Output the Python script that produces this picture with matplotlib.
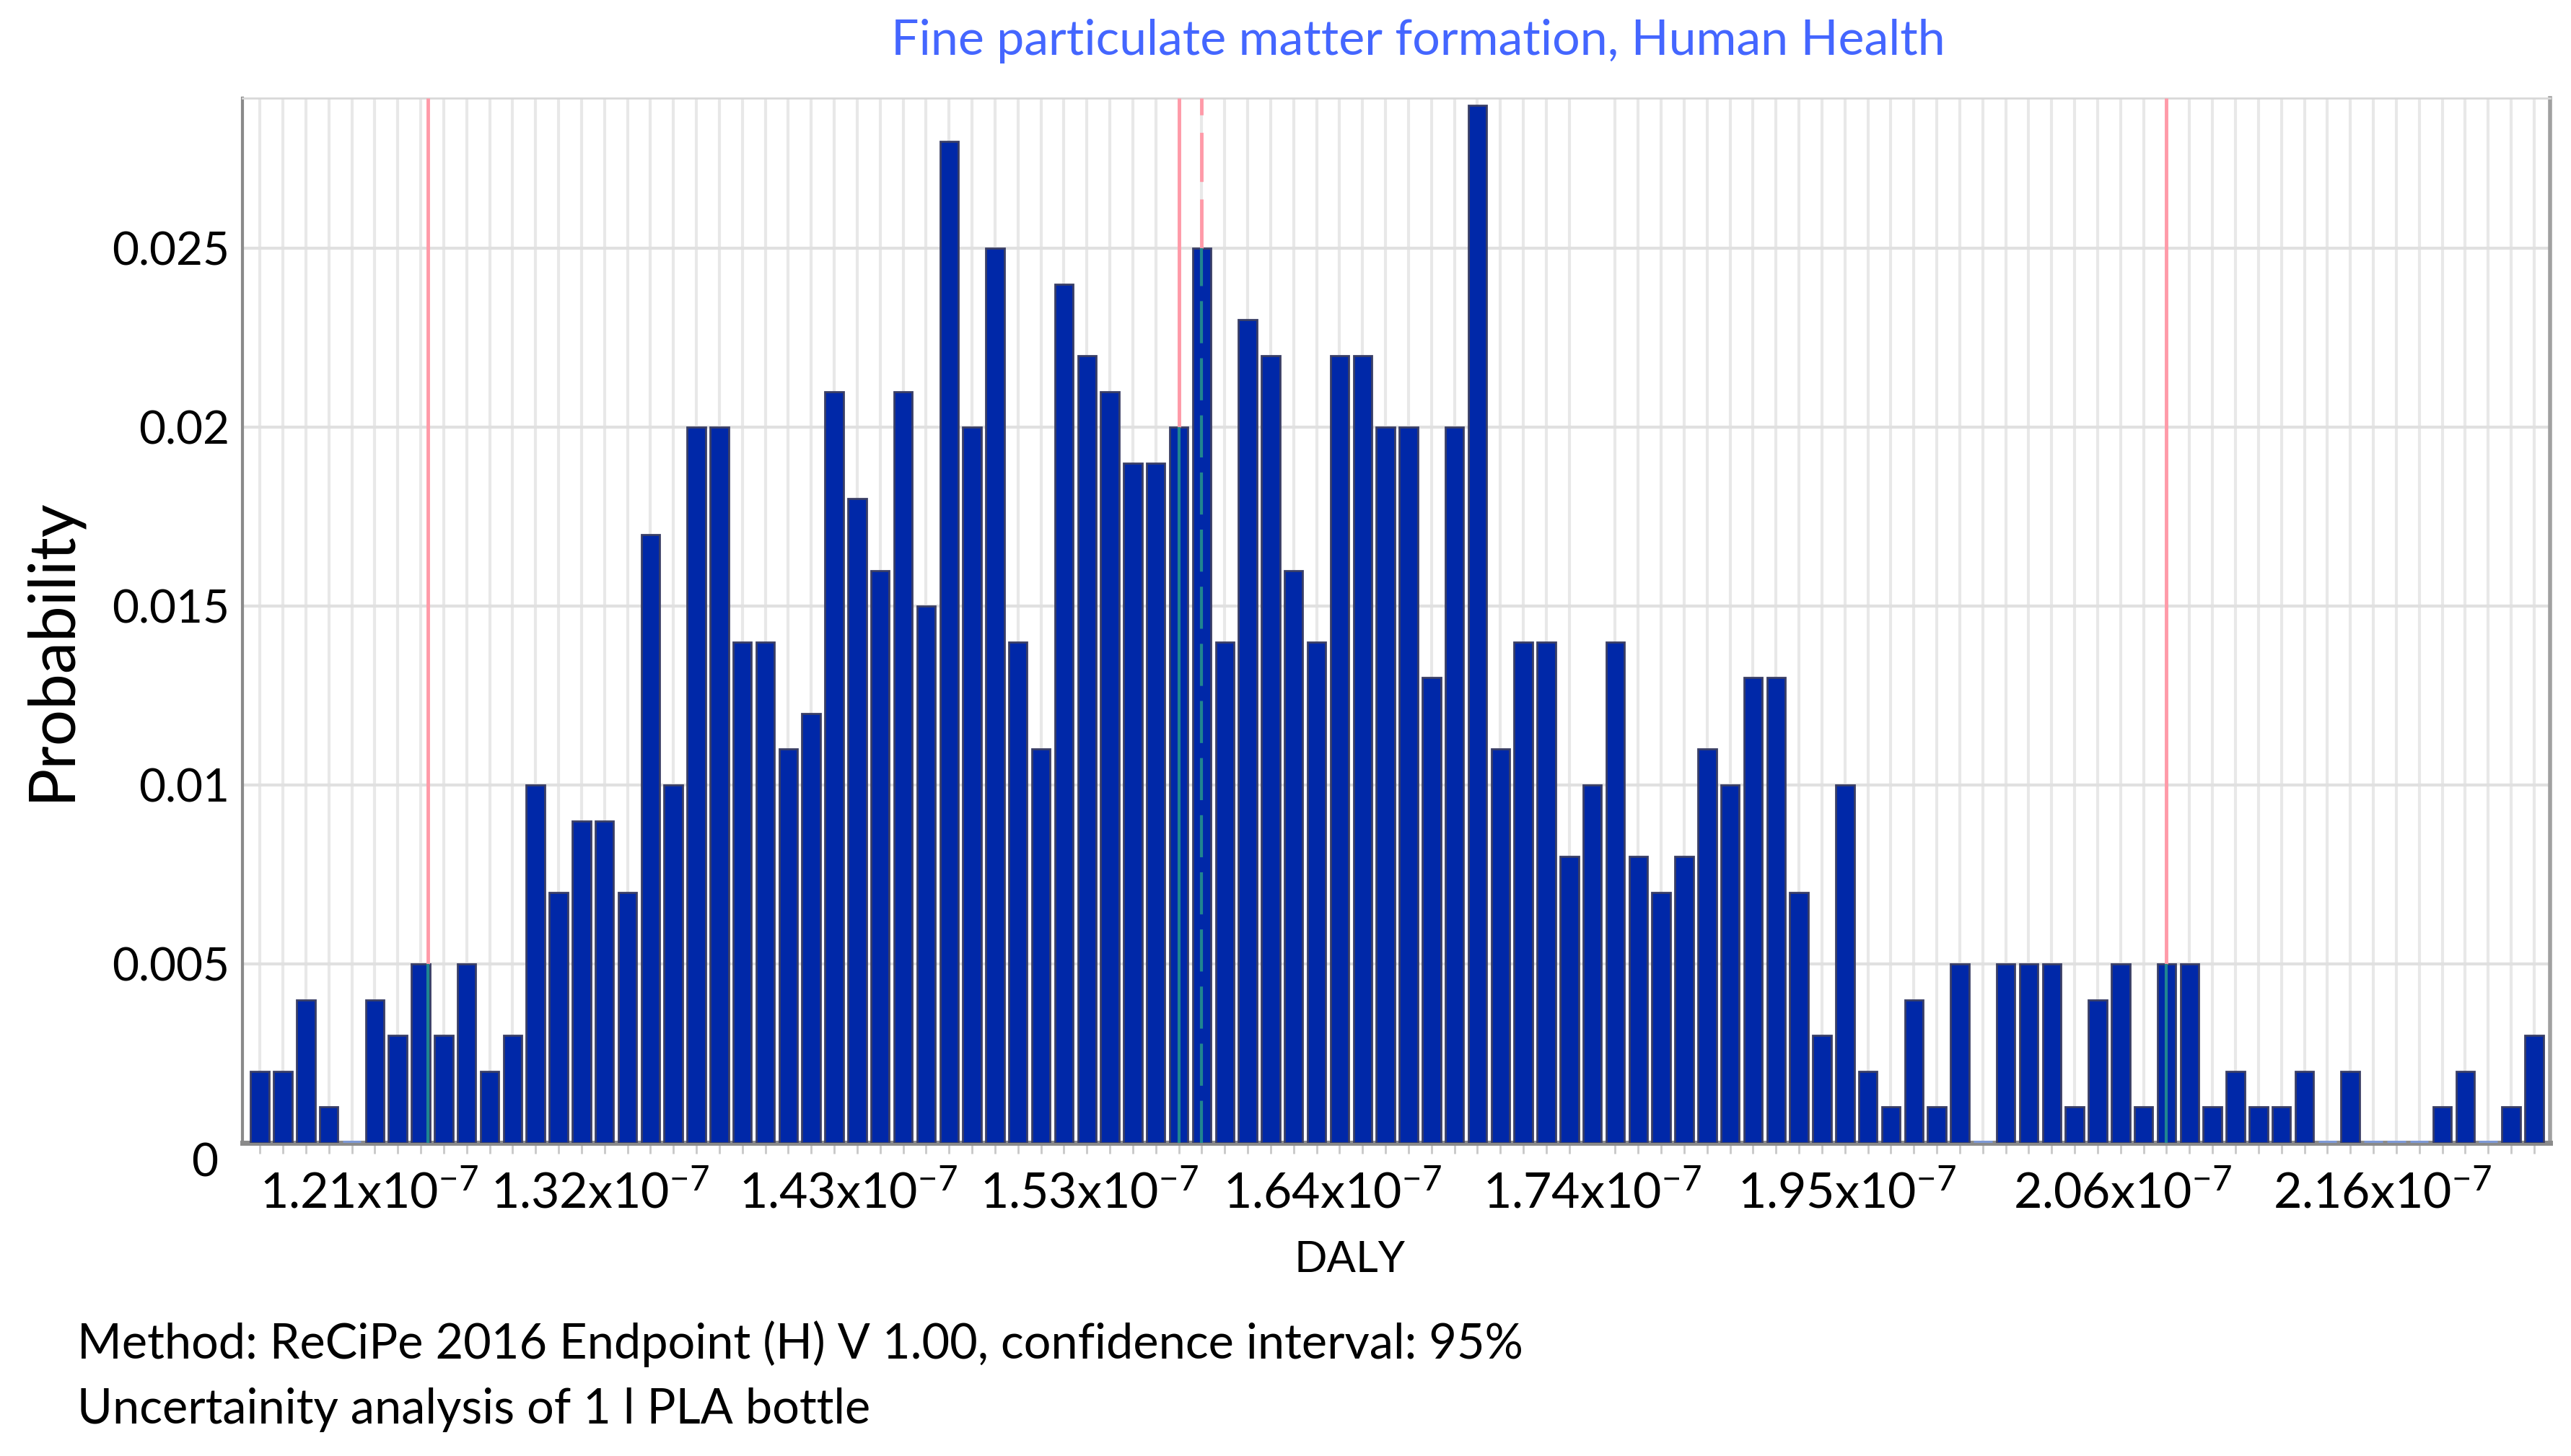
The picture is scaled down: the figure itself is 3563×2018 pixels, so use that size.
import matplotlib
matplotlib.use("agg")
import matplotlib.pyplot as plt
import numpy as np

# probability per DALY bin (100 bins)
probs = [0.002, 0.002, 0.004, 0.001, 0.000, 0.004, 0.003, 0.005, 0.003, 0.005,
         0.002, 0.003, 0.010, 0.007, 0.009, 0.009, 0.007, 0.017, 0.010, 0.020,
         0.020, 0.014, 0.014, 0.011, 0.012, 0.021, 0.018, 0.016, 0.021, 0.015,
         0.028, 0.020, 0.025, 0.014, 0.011, 0.024, 0.022, 0.021, 0.019, 0.019,
         0.020, 0.025, 0.014, 0.023, 0.022, 0.016, 0.014, 0.022, 0.022, 0.020,
         0.020, 0.013, 0.020, 0.029, 0.011, 0.014, 0.014, 0.008, 0.010, 0.014,
         0.008, 0.007, 0.008, 0.011, 0.010, 0.013, 0.013, 0.007, 0.003, 0.010,
         0.002, 0.001, 0.004, 0.001, 0.005, 0.000, 0.005, 0.005, 0.005, 0.001,
         0.004, 0.005, 0.001, 0.005, 0.005, 0.001, 0.002, 0.001, 0.001, 0.002,
         0.000, 0.002, 0.000, 0.000, 0.000, 0.001, 0.002, 0.000, 0.001, 0.003]

# x labels and where they sit (in bin index units)
xlabel_pos = [4.75, 14.8, 25.6, 36.1, 46.7, 58.0, 69.1, 81.1, 92.4]
xlabel_txt = ["1.21", "1.32", "1.43", "1.53", "1.64", "1.74", "1.95", "2.06", "2.16"]

# marker lines: confidence bounds (solid), median (solid), mean (dashed)
line_pos = [7.3, 40, 83]
mean_pos = 41

yticks = [0, 0.005, 0.01, 0.015, 0.02, 0.025]
ytick_txt = ["", "0.005", "0.01", "0.015", "0.02", "0.025"]

title = "Fine particulate matter formation, Human Health"
footer1 = "Method: ReCiPe 2016 Endpoint (H) V 1.00, confidence interval: 95%"
footer2 = "Uncertainity analysis of 1 l PLA bottle"

plt.rcParams["font.family"] = ["Lato", "DejaVu Sans"]
plt.rcParams["mathtext.fontset"] = "custom"
plt.rcParams["mathtext.rm"] = "Lato"
plt.rcParams["mathtext.it"] = "Lato:italic"
plt.rcParams["mathtext.bf"] = "Lato:bold"

fig = plt.figure(figsize=(35.63, 20.18), dpi=100)
ax = fig.add_axes([0.0943, 0.2151, 0.8976, 0.7175])

idx = np.arange(len(probs))
vals = np.array(probs)
edges = ["#7d99d6" if v == 0 else "#3a3f66" for v in vals]
lws = [5 if v == 0 else 2 for v in vals]
ax.bar(idx, vals, width=0.8, color="#0028a8", edgecolor=edges,
       linewidth=lws, zorder=3)

ymax = 0.0292
top_color = "#ff9aa8"
in_color = "#1f8590"
for p in line_pos:
    h = vals[int(round(p))]
    ax.vlines(p, h, ymax, color=top_color, linewidth=3.5, zorder=4)
    ax.vlines(p, 0, h, color=in_color, linewidth=3, zorder=4)
h = vals[mean_pos]
ax.vlines(mean_pos, h, ymax, color=top_color, linewidth=3.5,
          linestyle=(0, (14, 5)), zorder=4)
ax.vlines(mean_pos, 0, h, color=in_color, linewidth=3,
          linestyle=(0, (14, 5)), zorder=4)

ax.set_xlim(-0.76, 99.7)
ax.set_ylim(0, ymax)

ax.set_xticks(idx, minor=True)
ax.set_xticks(xlabel_pos)
ax.set_xticklabels([t + "x10$^{-7}$" for t in xlabel_txt], fontsize=49)
ax.tick_params(axis="x", which="major", length=0, pad=28)
ax.tick_params(axis="x", which="minor", length=11, width=2, color="#c8c8c8")
ax.set_yticks(yticks)
ax.set_yticklabels(ytick_txt, fontsize=46)
ax.tick_params(axis="y", length=0, pad=13)

ax.grid(axis="x", which="minor", color="#e8e8e8", linewidth=3, zorder=0)
ax.grid(axis="y", which="major", color="#e0e0e0", linewidth=3, zorder=0)
ax.set_axisbelow(True)

ax.spines["left"].set_color("#8a8a8a")
ax.spines["left"].set_linewidth(3)
ax.spines["bottom"].set_color("#8a8a8a")
ax.spines["bottom"].set_linewidth(5)
ax.spines["right"].set_color("#a0a0a0")
ax.spines["right"].set_linewidth(4)
ax.spines["top"].set_color("#d8d8d8")
ax.spines["top"].set_linewidth(2)

fig.text(0.0797, 0.2007, "0", fontsize=46, ha="center", va="center")
fig.text(0.5515, 0.972, title, fontsize=49, color="#4466ff",
         ha="center", va="center")
fig.text(0.020, 0.554, "Probability", fontsize=64, rotation=90,
         ha="center", va="center")
fig.text(0.525, 0.135, "DALY", fontsize=43, ha="center", va="center")
fig.text(0.030, 0.0768, footer1, fontsize=48, ha="left", va="center")
fig.text(0.030, 0.0317, footer2, fontsize=48, ha="left", va="center")

fig.savefig("out.png", dpi=100)
plt.close(fig)
